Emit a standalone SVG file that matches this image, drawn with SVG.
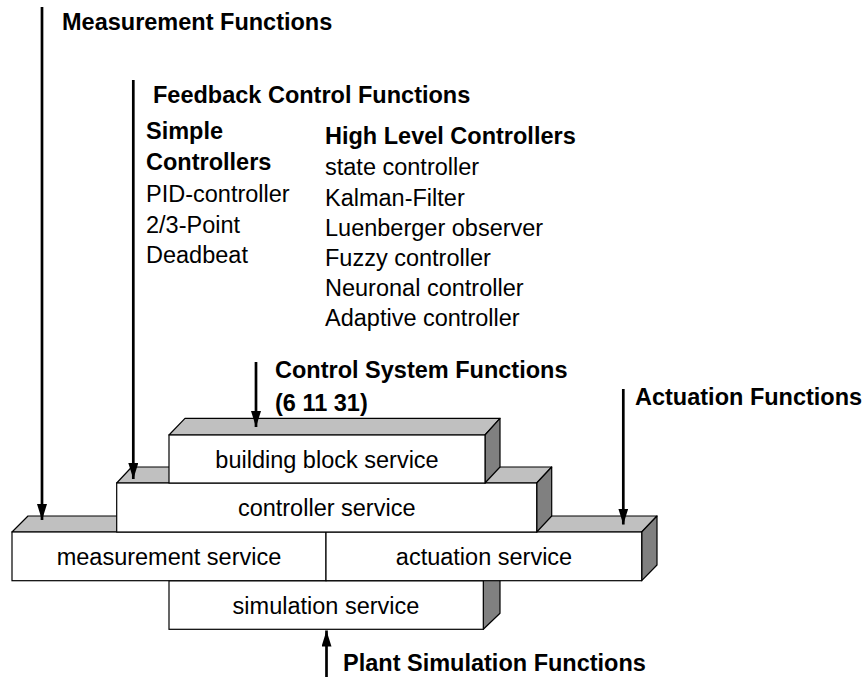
<svg xmlns="http://www.w3.org/2000/svg" width="864" height="677" viewBox="0 0 864 677">
<defs>
<style>
.b{font-family:"Liberation Sans",Arial,sans-serif;font-weight:bold;font-size:23.5px;fill:#000}
.r{font-family:"Liberation Sans",Arial,sans-serif;font-size:23.5px;fill:#000}
.c{text-anchor:middle}
.front{fill:#fff;stroke:#000;stroke-width:1.2}
.top{fill:#c0c0c0;stroke:#000;stroke-width:1.2;stroke-linejoin:round}
.side{fill:#808080;stroke:#000;stroke-width:1.2;stroke-linejoin:round}
.arr{stroke:#000;stroke-width:2.7;fill:none;marker-end:url(#ah)}
</style>
<marker id="ah" markerUnits="userSpaceOnUse" markerWidth="16" markerHeight="10" refX="16" refY="5" orient="auto">
<path d="M0,0 L16,5 L0,10 z" fill="#000"/>
</marker>
</defs>
<rect width="864" height="677" fill="#fff"/>

<g id="simulation-service">
<polygon class="side" points="483.3,580.7 500,564.7 500,613.3 483.3,629.3"/>
<rect class="front" x="169" y="580.7" width="314.3" height="48.6"/>
<text class="r c" x="326" y="613.5">simulation service</text>
</g>

<g id="bottom-layer">
<polygon class="top" points="12,532 28,516 657,516 641.7,532"/>
<polygon class="side" points="641.7,532 657,516 657,565 641.7,580.7"/>
</g>

<g id="measurement-service">
<rect class="front" x="12" y="532" width="314" height="48.7"/>
<text class="r c" x="169" y="565">measurement service</text>
</g>

<g id="actuation-service">
<rect class="front" x="326" y="532" width="315.7" height="48.7"/>
<text class="r c" x="484" y="565">actuation service</text>
</g>

<g id="controller-service">
<polygon class="top" points="116.7,483 131.7,467 551.7,467 536.7,483"/>
<polygon class="side" points="536.7,483 551.7,467 551.7,516 536.7,532"/>
<rect class="front" x="116.7" y="483" width="420" height="49"/>
<text class="r c" x="326.7" y="516">controller service</text>
</g>

<g id="building-block-service">
<polygon class="top" points="169,435 185,418.3 500,418.3 485,435"/>
<polygon class="side" points="485,435 500,418.3 500,467 485,483"/>
<rect class="front" x="169" y="435" width="316" height="48"/>
<text class="r c" x="327" y="467.5">building block service</text>
</g>

<g id="connectors">
<line class="arr" x1="42" y1="7" x2="42" y2="520"/>
<line class="arr" x1="133.3" y1="80" x2="133.3" y2="479"/>
<line class="arr" x1="256" y1="362" x2="256" y2="427"/>
<line class="arr" x1="623.3" y1="389" x2="623.3" y2="524.5"/>
<line class="arr" x1="326.5" y1="677" x2="326.5" y2="630.5"/>
</g>

<g id="labels">
<text class="b" x="62" y="29.5">Measurement Functions</text>
<text class="b" x="153" y="103">Feedback Control Functions</text>
<text class="b" x="146" y="138.5">Simple</text>
<text class="b" x="146" y="170">Controllers</text>
<text class="r" x="146" y="201.5">PID-controller</text>
<text class="r" x="146" y="232.5">2/3-Point</text>
<text class="r" x="146" y="262.5">Deadbeat</text>
<text class="b" x="325" y="143.5">High Level Controllers</text>
<text class="r" x="325" y="174.5">state controller</text>
<text class="r" x="325" y="206">Kalman-Filter</text>
<text class="r" x="325" y="236">Luenberger observer</text>
<text class="r" x="325" y="266">Fuzzy controller</text>
<text class="r" x="325" y="295.5">Neuronal controller</text>
<text class="r" x="325" y="325.5">Adaptive controller</text>
<text class="b" x="275" y="378">Control System Functions</text>
<text class="b" x="275" y="410.5">(6 11 31)</text>
<text class="b" x="635" y="405">Actuation Functions</text>
<text class="b" x="343" y="671">Plant Simulation Functions</text>
</g>
</svg>
